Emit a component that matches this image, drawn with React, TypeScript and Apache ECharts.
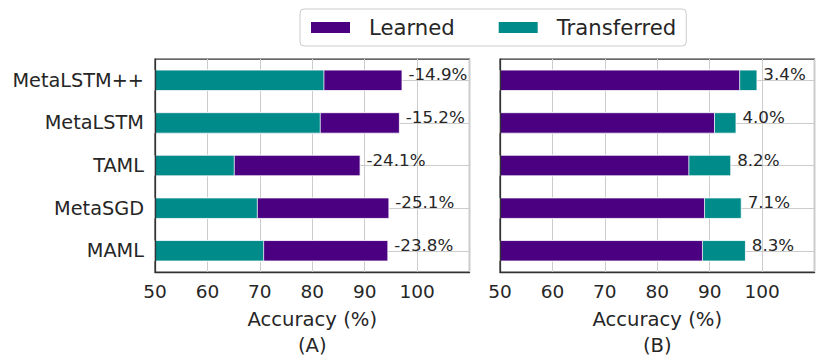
import React, { useEffect, useRef } from "react";
import * as echarts from "echarts";

const categories = ["MetaLSTM++", "MetaLSTM", "TAML", "MetaSGD", "MAML"];
const learnedA = [97.2, 96.7, 89.2, 94.7, 94.5];
const transferredA = [82.3, 81.6, 65.2, 69.6, 70.8];
const changeA = ["-14.9%", "-15.2%", "-24.1%", "-25.1%", "-23.8%"];
const learnedB = [95.8, 91.0, 86.1, 89.1, 88.7];
const transferredB = [99.1, 95.1, 94.1, 96.1, 96.9];
const changeB = ["3.4%", "4.0%", "8.2%", "7.1%", "8.3%"];
const panelNames = ["Accuracy (%)\n(A)", "Accuracy (%)\n(B)"];
const xMin = 50;
const xMax = 110;
const xStep = 10;
const xLastLabel = 100;

const PURPLE = "#4B0082";
const TEAL = "#008B8B";
const TEXT = "#262626";
const FONT = "DejaVu Sans";

export default function App() {
  const ref = useRef<HTMLDivElement>(null);
  useEffect(() => {
    document.body.style.margin = "0";
    if (!ref.current) return;
    const chart = echarts.init(ref.current, null, { renderer: "svg" });

    const mkX = (i: number) => ({
      type: "value",
      gridIndex: i,
      min: xMin,
      max: xMax,
      interval: xStep,
      axisLine: { show: true, onZero: false, lineStyle: { color: "#333333", width: 1.25 } },
      axisTick: { show: false },
      axisLabel: {
        color: TEXT,
        fontSize: 18.5,
        fontFamily: FONT,
        margin: 10,
        formatter: (v: number) => (v > xLastLabel ? "" : String(v)),
      },
      splitLine: { show: true, lineStyle: { color: "#cccccc", width: 1 } },
      name: panelNames[i],
      nameLocation: "middle",
      nameGap: 29,
      nameTextStyle: { color: TEXT, fontSize: 19.6, fontFamily: FONT, lineHeight: 26.5 },
    });
    const mkY = (i: number) => ({
      type: "category",
      gridIndex: i,
      data: categories,
      inverse: true,
      z: 5,
      axisLine: { show: true, onZero: false, lineStyle: { color: "#333333", width: 1.25 } },
      axisTick: { show: false },
      axisLabel: {
        show: i === 0,
        color: TEXT,
        fontSize: 19.3,
        fontFamily: FONT,
        margin: 11,
      },
      splitLine: { show: false },
    });

    const gridLines = (i: number) => ({
      type: "line",
      xAxisIndex: i,
      yAxisIndex: i,
      data: [],
      silent: true,
      z: 1,
      markLine: {
        z: 1,
        silent: true,
        symbol: ["none", "none"],
        label: { show: false },
        lineStyle: { color: "#cccccc", width: 1, type: "solid" },
        data: categories.map((c) => ({ yAxis: c })),
      },
    });

    const barBase = {
      type: "bar",
      barWidth: "50%",
      barGap: "-100%",
      animation: false,
    };
    const lbl = (arr: string[]) => ({
      show: true,
      position: "right",
      distance: 6,
      offset: [0, -6],
      color: TEXT,
      fontSize: 16.7,
      fontFamily: FONT,
      formatter: (p: any) => arr[p.dataIndex],
    });

    const option: any = {
      animation: false,
      backgroundColor: "#ffffff",
      textStyle: { fontFamily: FONT },
      legend: {
        left: 300,
        top: 9,
        data: ["Learned", "Transferred"],
        icon: "rect",
        itemWidth: 41,
        itemHeight: 13,
        itemGap: 42,
        padding: [8, 10, 8, 9],
        borderColor: "#cccccc",
        borderWidth: 1,
        borderRadius: 4,
        textStyle: { color: TEXT, fontSize: 21.2, fontFamily: FONT, padding: [0, 0, 0, 13] },
      },
      grid: [
        { left: 155, right: 360.5, top: 59, height: 214, show: true, borderColor: "#333333", borderWidth: 1.25, backgroundColor: "transparent" },
        { left: 500, right: 15.5, top: 59, height: 214, show: true, borderColor: "#333333", borderWidth: 1.25, backgroundColor: "transparent" },
      ],
      xAxis: [mkX(0), mkX(1)],
      yAxis: [mkY(0), mkY(1)],
      series: [
        gridLines(0),
        gridLines(1),
        {
          ...barBase,
          name: "Learned",
          xAxisIndex: 0,
          yAxisIndex: 0,
          z: 2,
          data: learnedA,
          itemStyle: { color: PURPLE, borderColor: "#ffffff", borderWidth: 0.8 },
          label: lbl(changeA),
        },
        {
          ...barBase,
          name: "Transferred",
          xAxisIndex: 0,
          yAxisIndex: 0,
          z: 3,
          data: transferredA,
          itemStyle: { color: TEAL, borderColor: "#ffffff", borderWidth: 0.8 },
        },
        {
          ...barBase,
          name: "Transferred",
          xAxisIndex: 1,
          yAxisIndex: 1,
          z: 2,
          data: transferredB,
          itemStyle: { color: TEAL, borderColor: "#ffffff", borderWidth: 0.8 },
          label: lbl(changeB),
        },
        {
          ...barBase,
          name: "Learned",
          xAxisIndex: 1,
          yAxisIndex: 1,
          z: 3,
          data: learnedB,
          itemStyle: { color: PURPLE, borderColor: "#ffffff", borderWidth: 0.8 },
        },
      ],
    };
    chart.setOption(option);
    return () => chart.dispose();
  }, []);
  return <div ref={ref} style={{ width: 830, height: 364 }} />;
}
